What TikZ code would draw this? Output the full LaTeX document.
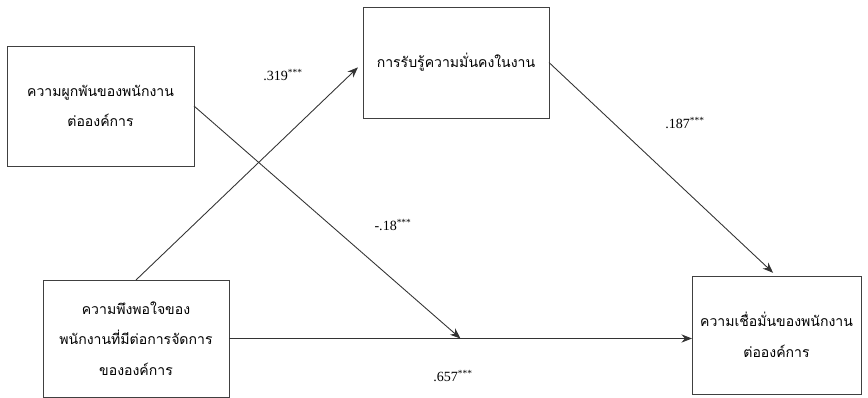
\documentclass[tikz,border=0pt]{standalone}
\usepackage{fontspec}
\setmainfont{Liberation Serif}
\newfontfamily\thaifont[Script=Thai]{Loma}
\usetikzlibrary{arrows.meta}

\begin{document}
\begin{tikzpicture}[x=0.03cm,y=-0.03cm,
		box/.style={draw=black!75,line width=0.6pt,outer sep=0pt,align=center,
			font=\thaifont\fontsize{12}{26}\selectfont},
		arr/.style={draw=black!80,line width=0.75pt,-{Stealth[length=9pt,width=7pt]}},
		coef/.style={font=\fontsize{12}{14}\selectfont}]
	\useasboundingbox (0,0) rectangle (868,398);
	% variables
	\node[box,minimum width=5.61cm,minimum height=3.6cm] (eng) at (100.5,106) {ความผูกพันของพนักงาน\\ต่อองค์การ};
	\node[box,minimum width=5.58cm,minimum height=3.33cm] (sec) at (456,62.5) {การรับรู้ความมั่นคงในงาน};
	\node[box,minimum width=5.58cm,minimum height=3.51cm] (sat) at (136,338.5) {ความพึงพอใจของ\\พนักงานที่มีต่อการจัดการ\\ขององค์การ};
	\node[box,minimum width=5.07cm,minimum height=3.54cm] (loy) at (776.5,335) {ความเชื่อมั่นของพนักงาน\\ต่อองค์การ};
	% paths
	\draw[arr] (sat.east) -- coordinate[pos=0.5] (hit) (sat.east -| loy.west);
	\draw[arr,shorten >=6pt] (sat.north) -- (sec.west);
	\draw[arr,shorten >=4pt] (sec.east) -- (loy.north);
	\draw[arr] (eng.east) -- (hit);
	% coefficients
	\node[coef] (c1) at (283,75) {.319\textsuperscript{***}};
	\node[coef] (c2) at (685,123) {.187\textsuperscript{***}};
	\node[coef] (c3) at (393,225) {-.18\textsuperscript{***}};
	\node[coef] (c4) at (453,376) {.657\textsuperscript{***}};
\end{tikzpicture}
\end{document}
